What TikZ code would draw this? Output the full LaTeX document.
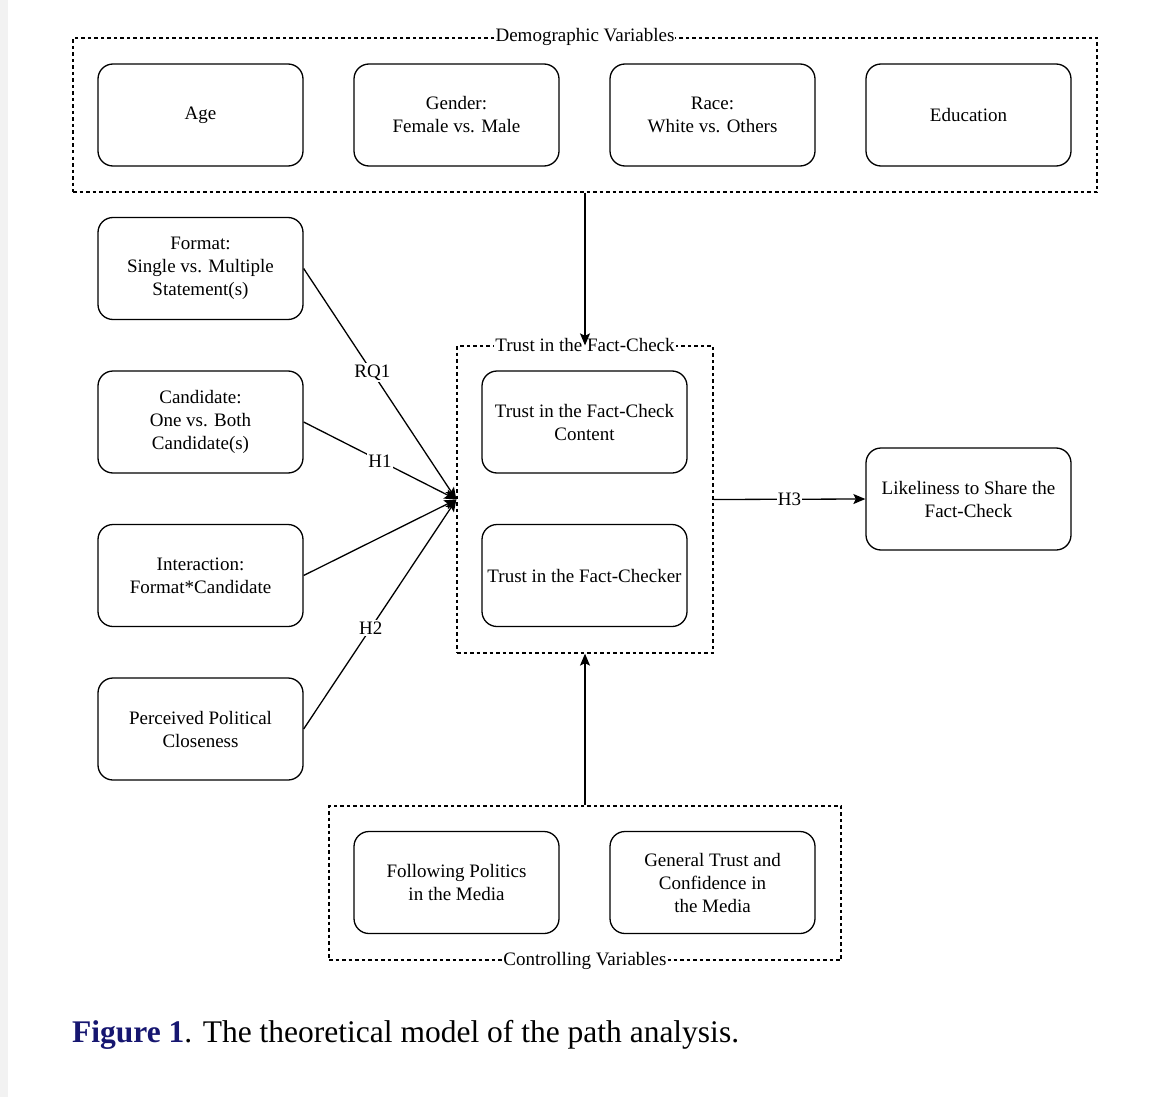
\documentclass[tikz,border=0pt]{standalone}
\usepackage{fontspec}
\setmainfont{Liberation Serif}
\usetikzlibrary{arrows.meta}
\definecolor{navyfig}{RGB}{22,22,112}
\begin{document}
\begin{tikzpicture}[x=1pt,y=-1pt,
  box/.style={draw,line width=1.3pt,rounded corners=15pt,minimum width=205pt,minimum height=102pt,align=center,inner sep=0pt,font=\fontsize{19}{23}\selectfont},
  grp/.style={draw,line width=1.3pt,dash pattern=on 3.5pt off 3pt,inner sep=0pt},
  grplab/.style={fill=white,inner sep=1pt,font=\fontsize{19}{23}\selectfont},
  lab/.style={fill=white,inner sep=1.5pt,font=\fontsize{19}{23}\selectfont},
  arr/.style={line width=1.3pt,-{Stealth[length=12pt,width=10pt,inset=2.5pt]}}
]
\useasboundingbox (0,0) rectangle (1170,1097);
\fill[gray!10] (0,0) rectangle (8,1097);

% groups
\node[grp,minimum width=1024pt,minimum height=154pt] (demo) at (585,115) {};
\node[grp,minimum width=256pt,minimum height=307pt] (trust) at (585,499.5) {};
\node[grp,minimum width=512pt,minimum height=154pt] (ctrl) at (585,883) {};

% demographic boxes
\node[box] (age) at (200.5,115) {Age};
\node[box] (gender) at (456.5,115) {Gender:\\Female vs. Male};
\node[box] (race) at (712.5,115) {Race:\\White vs. Others};
\node[box] (edu) at (968.5,115) {Education};

% left boxes
\node[box] (format) at (200.5,268.5) {Format:\\Single vs. Multiple\\Statement(s)};
\node[box] (cand) at (200.5,422) {Candidate:\\One vs. Both\\Candidate(s)};
\node[box] (inter) at (200.5,575.5) {Interaction:\\Format*Candidate};
\node[box] (perc) at (200.5,729) {Perceived Political\\Closeness};

% trust boxes
\node[box] (content) at (584.5,422) {Trust in the Fact-Check\\Content};
\node[box] (checker) at (584.5,575.5) {Trust in the Fact-Checker};

% outcome
\node[box] (share) at (968.5,499) {Likeliness to Share the\\Fact-Check};

% controlling boxes
\node[box] (follow) at (456.5,882.5) {Following Politics\\in the Media};
\node[box] (general) at (712.5,882.5) {General Trust and\\Confidence in\\the Media};

% group labels
\node[grplab] (demolab) at (demo.north) {Demographic Variables};
\node[grplab] (trustlab) at (trust.north) {Trust in the Fact-Check};
\node[grplab] (ctrllab) at (ctrl.south) {Controlling Variables};

% connectors
\coordinate (conv) at (trust.west);
\draw[arr] (format.east) -- node[lab,pos=0.45] {RQ1} (conv);
\draw[arr] (cand.east) -- node[lab,pos=0.5] {H1} (conv);
\draw[arr] (inter.east) -- (conv);
\draw[arr] (perc.east) -- node[lab,pos=0.44] {H2} (conv);

\draw[arr] (demo.south) -- (trust.north);
\draw[arr] (ctrl.north) -- (trust.south);
\draw[arr] (trust.east) -- node[lab,inner sep=0.5pt] {H3} (share.west);

% caption
\node[anchor=base west,inner sep=0pt,font=\fontsize{31.5}{38}\selectfont] (cap) at (72,1042)
  {\textcolor{navyfig}{\textbf{Figure 1}}. The theoretical model of the path analysis.};
\end{tikzpicture}
\end{document}
